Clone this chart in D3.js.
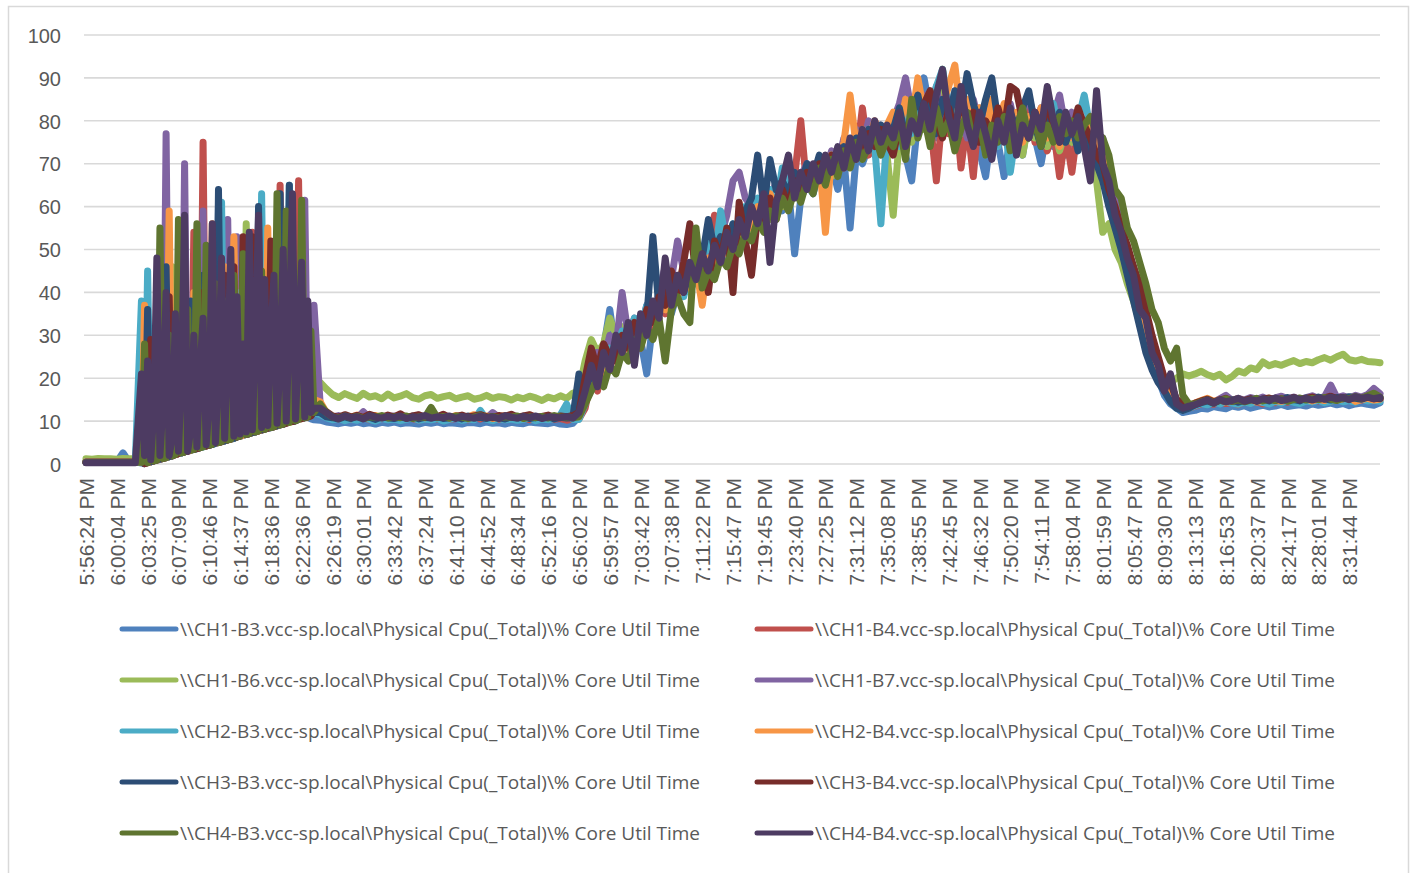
<!DOCTYPE html>
<html>
<head>
<meta charset="utf-8">
<script src="https://cdn.jsdelivr.net/npm/d3@7"></script>
<style>
  body { margin: 0; background: #ffffff; }
  svg { display: block; }
</style>
</head>
<body>
<svg id="chart" width="1416" height="873"></svg>
<script>
// Category labels along the time axis
const timeLabels = ["5:56:24 PM","6:00:04 PM","6:03:25 PM","6:07:09 PM","6:10:46 PM","6:14:37 PM","6:18:36 PM","6:22:36 PM","6:26:19 PM","6:30:01 PM","6:33:42 PM","6:37:24 PM","6:41:10 PM","6:44:52 PM","6:48:34 PM","6:52:16 PM","6:56:02 PM","6:59:57 PM","7:03:42 PM","7:07:38 PM","7:11:22 PM","7:15:47 PM","7:19:45 PM","7:23:40 PM","7:27:25 PM","7:31:12 PM","7:35:08 PM","7:38:55 PM","7:42:45 PM","7:46:32 PM","7:50:20 PM","7:54:11 PM","7:58:04 PM","8:01:59 PM","8:05:47 PM","8:09:30 PM","8:13:13 PM","8:16:53 PM","8:20:37 PM","8:24:17 PM","8:28:01 PM","8:31:44 PM"];

// Sample times in label units: 5 samples per label interval,
// 10 per interval during the 6:03-6:22 load burst.
const sampleTimes = [
  ...d3.range(0, 9).map(i => i / 5),
  ...d3.range(0, 57).map(h => (9 + h / 2) / 5),
  ...d3.range(38, 211).map(i => i / 5)
];

const yTicks = [0, 10, 20, 30, 40, 50, 60, 70, 80, 90, 100];

const seriesNames = [
  "\\\\CH1-B3.vcc-sp.local\\Physical Cpu(_Total)\\% Core Util Time",
  "\\\\CH1-B4.vcc-sp.local\\Physical Cpu(_Total)\\% Core Util Time",
  "\\\\CH1-B6.vcc-sp.local\\Physical Cpu(_Total)\\% Core Util Time",
  "\\\\CH1-B7.vcc-sp.local\\Physical Cpu(_Total)\\% Core Util Time",
  "\\\\CH2-B3.vcc-sp.local\\Physical Cpu(_Total)\\% Core Util Time",
  "\\\\CH2-B4.vcc-sp.local\\Physical Cpu(_Total)\\% Core Util Time",
  "\\\\CH3-B3.vcc-sp.local\\Physical Cpu(_Total)\\% Core Util Time",
  "\\\\CH3-B4.vcc-sp.local\\Physical Cpu(_Total)\\% Core Util Time",
  "\\\\CH4-B3.vcc-sp.local\\Physical Cpu(_Total)\\% Core Util Time",
  "\\\\CH4-B4.vcc-sp.local\\Physical Cpu(_Total)\\% Core Util Time"
];
const seriesColors = ["#4F81BD","#C0504D","#9BBB59","#8064A2","#4BACC6","#F79646","#2C4D75","#772C2A","#5F7530","#4D3B62"];

// % Core Util Time samples per host
const cpuCH1B3 = [0.5,0.5,0.5,0.5,0.5,0.5,2.6,0.5,0.5,
0.2,0.1,18,0.5,0.7,0.9,26,1.3,1.5,1.7,30,2.2,2.4,2.6,22,3,3.2,3.4,35,3.8,4,4.2,28,4.6,4.8,60,5.2,5.4,5.6,32,6,6.3,6.5,40,6.9,7.1,7.3,25,7.7,7.9,8.1,38,8.5,8.7,8.9,30,9.3,9.5,9.7,42,10.1,10.4,10.6,20,11,10.5,10.3,
10.2,9.8,9.6,9.4,9.7,9.5,9.8,9.4,9.6,9.3,9.7,9.5,9.8,9.4,9.6,9.5,9.3,9.7,9.5,9.8,9.4,9.6,9.5,9.3,9.7,9.6,9.4,9.8,9.5,9.6,9.3,9.7,9.5,9.4,9.8,9.6,9.5,9.4,9.7,9.3,9.2,9.5,
11,15,18,24,27,36,26,30,27,31,29,21,33,36,38,35,40,43,41,44,43,47,46,50,48,54,51,57,55,58,60,57,62,59,64,49,62,65,63,68,66,70,64,71,55,72,70,74,72,76,73,
75,78,72,66,80,90,82,76,84,79,86,74,80,77,73,67,78,75,67,76,79,72,81,76,70,78,74,80,72,77,82,75,79,74,
72,63,57,52,46,40,36,29,24,20,16,14,13,12,12.3,
12.5,13,12.8,13.4,13.1,12.9,13.5,13.2,13.6,13,13.4,13.7,13.3,13.5,13.9,13.4,13.6,13.8,13.5,14,13.7,13.9,14.2,13.8,14.1,13.6,14,14.2,13.9,13.7,14.3];

const cpuCH1B4 = [0.5,0.5,0.5,0.5,0.5,0.5,0.5,0.5,0.5,
8,0.1,0.3,0.5,0.7,0.9,1.1,22,1.5,1.7,1.9,30,2.4,2.6,42,3,3.2,54,3.6,3.8,75,4.2,4.4,4.6,38,5,5.2,5.4,45,5.8,6,6.3,36,6.7,6.9,7.1,54,7.5,7.7,7.9,40,8.3,8.5,8.7,8.9,65,9.3,9.5,48,9.9,10.1,66,10.6,10.8,11,11.2,14,
13,11.5,10.8,10.5,11,10.4,10.7,10.9,10.3,10.6,11.1,10.5,10.7,10.4,10.9,10.6,10.2,10.8,11,10.5,10.7,10.4,10.6,10.9,10.3,10.8,10.5,11,10.6,10.4,10.7,10.9,10.5,10.8,10.3,10.6,11,10.7,10.4,10.6,10.2,10.5,
10.5,13,20,17,25,22,28,25,31,29,27,34,32,38,35,40,38,44,41,46,43,51,58,49,54,51,56,53,60,55,61,58,64,60,63,67,80,64,68,66,70,67,73,69,75,71,83,72,77,74,78,
79,74,82,76,84,78,80,66,82,77,85,69,80,67,83,76,81,74,79,72,80,76,83,75,79,73,78,67,77,68,79,75,80,76,
74,66,59,55,49,44,38,32,27,22,18,16,14,13,13,
13.5,14,14.3,13.9,14.5,14.1,14.4,13.8,14.6,14.2,14.5,14,14.7,14.3,14.6,14.4,14.9,14.5,14.8,15.2,14.7,15,14.6,15.1,14.8,15.3,15,14.9,15.4,15.1,14.9];

const cpuCH1B6 = [1.2,1.1,1.3,1.2,1.2,1.1,1.3,1.2,1.2,
1.2,0.1,0.3,0.5,12,0.9,1.1,1.3,1.5,1.7,46,2.2,2.4,2.6,2.8,3,25,3.4,3.6,3.8,4,4.2,33,4.6,4.8,5,5.2,5.4,40,5.8,6,6.3,6.5,6.7,56,7.1,7.3,7.5,7.7,7.9,36,8.3,8.5,8.7,8.9,9.1,44,9.5,9.7,9.9,35,10.4,10.6,10.8,30,14,18,
19,17.5,16.2,15.5,16.4,15.8,15.3,16.5,15.6,15.9,15.2,16.3,15.4,15.8,16.4,15.5,15.1,15.9,16.2,15.3,15.7,16,15.2,15.6,15.9,15.1,15.4,16,15.3,15.7,15.5,14.9,15.6,15.2,15.8,15.4,14.8,15.6,15.2,15.9,15.3,16.5,
17,24,29,26,28,34,30,32,29,33,31,36,33,38,36,41,39,44,40,45,47,44,50,47,53,50,55,52,58,56,60,57,63,60,65,62,67,64,69,66,71,67,73,70,74,71,76,73,77,74,72,
58,76,81,75,83,78,86,80,92,79,84,77,82,75,80,73,79,76,82,74,78,72,80,76,81,74,79,73,78,75,80,74,71,66,
54,56,50,47,42,38,33,29,25,22,20,19,20,21,20.5,
21,21.6,20.8,20.3,20.9,19.6,20.4,21.7,21.2,22.4,22,23.8,22.9,23.4,23,23.6,24.1,23.4,23.9,23.6,24.3,24.8,24.2,25,25.6,24.3,24,24.4,23.9,23.8,23.6];

const cpuCH1B7 = [0.5,0.5,0.5,0.5,0.5,0.5,0.5,0.5,0.5,
5,0.1,0.3,0.5,28,0.9,1.1,1.3,77,1.7,1.9,2.2,2.4,2.6,70,3,3.2,34,3.6,3.8,59,4.2,4.4,4.6,32,5,5.2,5.4,57,5.8,6,53,6.5,6.7,6.9,7.1,45,7.5,7.7,7.9,38,8.3,8.5,8.7,42,9.1,9.3,9.5,30,9.9,10.1,10.4,10.6,61.5,11,11.2,37,
14,11,10.9,11.3,10.6,11,10.8,12.2,10.7,11.1,10.5,10.9,11.2,10.6,11,10.8,11.4,10.5,10.9,11.1,10.7,11,10.6,11.2,10.8,10.5,11,10.7,12,10.9,10.6,11.1,10.8,10.5,11,10.7,10.9,11.2,10.6,11,13,10.8,
11,18,22,26,24,30,27,40,30,34,31,37,34,40,46,43,52,45,44,48,46,50,47,53,58,66,68,62,60,58,63,61,66,64,68,65,67,70,66,71,68,73,70,76,72,78,74,80,76,79,77,
80,84,90,82,78,86,80,88,79,84,77,82,76,85,79,83,76,81,78,84,77,82,86,79,83,77,81,86,78,82,76,80,78,73,
76,68,62,56,50,46,40,35,29,24,20,17,15,14,13.5,
14,14.6,15,14.4,15.2,16,14.8,15.3,14.9,15.5,15.1,15.6,14.9,15.4,15.8,15.2,15.6,15,15.5,15.9,15.3,15.7,18.4,15.5,15.9,15.4,16,15.6,16.2,17.6,16.4];

const cpuCH2B3 = [0.5,0.5,0.5,0.5,0.5,0.5,0.5,0.5,0.5,
38,3,45,0.5,0.7,0.9,22,1.3,1.5,1.7,1.9,30,2.4,2.6,2.8,3,26,3.4,3.6,3.8,4,35,4.4,4.6,4.8,5,61,5.4,5.6,5.8,6,40,6.5,6.7,6.9,33,7.3,7.5,7.7,63,8.1,8.3,8.5,36,8.9,9.1,9.3,9.5,65,9.9,10.1,10.4,28,10.8,11,11.2,12,
11.5,10.8,10.3,10.6,10.1,10.5,10.2,10.7,10.4,10,10.6,10.3,10.5,10.1,10.4,10.8,10.2,10.5,10.3,10.6,10,10.4,10.7,10.2,10.5,10.3,12.5,10.4,10.1,10.6,10.3,10.5,10.2,10.4,10.7,10.1,10.5,10.3,10.6,11.5,14,10.4,
10.4,14,20,23,21,27,25,31,28,34,31,37,33,36,40,38,42,39,45,42,47,52,48,59,51,56,53,60,57,62,58,64,60,69,63,66,62,68,64,70,66,72,68,74,70,76,71,78,74,56,77,
80,74,83,77,85,79,83,88,92,84,78,86,80,75,82,72,79,74,81,68,78,82,76,80,74,79,84,77,81,76,80,86,78,72,
70,62,56,50,45,40,34,30,25,21,17,14.5,13,12.5,13,
13.6,14.1,13.8,14.4,14,14.6,14.2,13.9,14.5,14.1,14.7,14.3,14,14.6,14.2,14.8,14.4,14.1,14.7,14.5,14.9,14.3,14.6,15,14.5,14.8,14.4,15.1,14.7,14.9,14.6];

const cpuCH2B4 = [0.5,0.5,0.5,0.5,0.5,0.5,0.5,0.5,0.5,
0.5,37,0.3,0.5,0.7,25,1.1,1.3,1.5,59,1.9,2.2,2.4,34,2.8,3,3.2,40,3.6,3.8,28,4.2,4.4,56,4.8,5,5.2,46,5.6,5.8,53,6.3,6.5,6.7,38,7.1,7.3,44,7.7,7.9,8.1,55,8.5,8.7,8.9,36,9.3,9.5,9.7,46,10.1,10.4,10.6,25,11,11.2,15,
14.5,12,11,10.7,11.2,10.9,11.4,10.6,11,11.3,10.8,11.1,10.9,11.5,10.7,11,11.2,10.8,11.4,10.9,11.1,10.7,11.3,10.9,11,11.5,10.8,11.2,10.6,11,11.3,10.9,11.1,10.7,11.4,10.9,11,11.2,10.8,11.1,10.9,11.2,
11,16,19,23,21,26,24,29,27,32,30,35,33,38,36,41,39,43,41,46,37,48,45,51,49,54,52,58,55,60,57,63,60,65,62,67,64,69,66,71,54,72,69,75,86,74,78,75,80,77,79,
82,78,85,80,90,82,86,79,84,88,93,81,85,78,83,76,85,79,84,77,82,75,81,78,83,76,80,74,79,76,81,77,79,74,
72,64,58,53,47,42,37,31,26,21,18,15.5,14,13.5,13.5,
14.2,14.8,15.3,14.6,15,14.4,14.9,15.2,14.7,15.1,14.5,14.9,15.3,14.8,14.6,15,15.4,14.9,15.2,14.7,15.1,14.8,15.3,14.9,15.2,15.5,14.6,15,15.3,14.9,15.1];

const cpuCH3B3 = [0.4,0.4,0.4,0.4,0.4,0.4,0.4,0.4,0.4,
3,0.1,36,0.5,0.7,20,1.1,1.3,46,1.7,1.9,2.2,30,2.6,2.8,3,38,3.4,3.6,3.8,44,4.2,4.4,4.6,4.8,64,5.2,5.4,5.6,35,6,6.3,6.5,42,6.9,7.1,7.3,7.5,60,7.9,8.1,40,8.5,8.7,8.9,63,9.3,9.5,65,9.9,10.1,10.4,38,10.8,11,11.2,12,
12,11,10.8,10.5,11,10.6,11.3,10.7,10.9,10.4,11.1,10.8,10.6,11,10.7,11.2,10.5,10.9,10.7,11.1,10.6,10.8,11,10.5,11.2,10.7,10.9,10.6,11.1,10.8,10.5,11,10.7,11.2,10.6,10.9,10.8,11,10.5,10.9,10.7,10.8,
21,16,22,19,25,23,29,26,31,28,30,34,53,36,40,38,43,40,45,43,48,57,50,53,51,56,54,59,62,72,60,71,64,66,63,68,65,70,67,72,69,71,68,74,71,76,73,78,75,79,76,
78,83,76,81,86,79,84,77,85,80,87,82,91,84,79,85,90,80,77,82,78,83,87,79,74,80,77,82,75,79,73,78,72,70,
66,60,55,50,44,38,32,26,22,19,17,14.5,13,12.5,13,
13.8,14.3,14.7,14.2,14.9,14.5,15,14.4,14.8,15.2,14.6,15.1,14.7,15.3,14.9,15.5,15,14.7,15.4,15.1,15.6,15.2,14.9,15.5,15.2,15.7,15.3,15.1,15.6,15.4,15.2];

const cpuCH3B4 = [0.4,0.4,0.4,0.4,0.4,0.4,0.4,0.4,0.4,
2,0.1,0.3,29,0.7,0.9,24,1.3,1.5,39,1.9,2.2,2.4,33,2.8,3,26,3.4,3.6,3.8,40,4.2,4.4,4.6,36,5,5.2,44,5.6,5.8,46,6.3,6.5,53,6.9,7.1,53,7.5,7.7,41,8.1,8.3,52,8.7,53,9.1,9.3,9.5,35,9.9,10.1,30,10.6,10.8,11,11.2,13,
13,12.2,11.2,10.9,11.5,11,11.3,10.8,11.6,11.1,10.9,11.4,11,11.7,10.8,11.2,11.5,10.9,11.3,11,11.6,10.8,11.1,11.4,10.9,11.2,11.5,11,10.8,11.3,11.1,11.6,10.9,11.2,11.5,10.8,11.1,11.4,10.9,11.2,11,11.3,
12,20,27,22,28,25,24,30,27,33,29,36,33,39,37,45,40,47,56,44,49,40,52,48,55,40,61,52,44,58,55,62,57,64,60,66,62,68,64,70,66,72,68,73,70,75,72,77,74,78,75,
72,79,75,82,77,84,87,80,76,83,78,85,79,82,75,80,77,83,78,88,87,80,76,82,78,84,79,75,81,77,83,79,76,72,
70,64,60,55,51,46,42,36,30,25,20,19,15,14,13.5,
14.2,14.7,15.1,14.5,14.9,15.3,14.6,15,14.8,15.2,14.7,15.1,15.4,14.9,15.2,14.8,15.5,15,15.3,15.6,15.1,15.4,15.8,15.2,15.5,15.1,15.6,15.3,15.7,15.2,15.4];

const cpuCH4B3 = [0.4,0.4,0.4,0.4,0.4,0.4,0.4,0.4,0.4,
0.4,28,0.3,22,0.7,0.9,55,1.3,1.5,30,1.9,2.2,57,2.6,2.8,36,3.2,3.4,56,3.8,4,51,4.4,4.6,42,5,5.2,38,5.6,5.8,44,6.3,6.5,49,6.9,7.1,40,7.5,7.7,45,8.1,28,8.5,8.7,63,9.1,9.3,59,9.7,25,10.1,10.4,61.5,10.8,11,31,12,
14,12,11,10.7,11.2,10.8,11.1,10.6,11,10.9,11.3,10.7,11,10.8,11.2,10.6,11,10.9,13.2,10.8,11.1,10.7,11.2,10.9,10.6,11,11.3,10.8,11.1,10.7,11,10.9,11.2,10.6,11,10.8,11.1,10.7,11.3,10.9,11,10.8,
11,14,17,20,18,23,21,26,24,29,27,32,29,34,24,36,39,35,33,55,41,45,43,48,46,51,49,54,52,57,54,59,57,62,59,64,61,66,63,69,65,71,67,73,69,75,71,74,77,72,76,
74,79,71,85,76,81,74,83,77,80,73,78,82,75,80,72,79,75,81,73,78,83,76,80,74,79,75,81,77,80,76,79,81,77,
76,72,64,62,55,52,47,42,36,33,27,24,27,16,14,
14,14.5,14.9,14.3,14.8,15.2,14.6,15,14.5,14.9,15.3,14.7,15.1,14.8,15.2,14.6,15,15.4,14.9,15.3,15,15.5,15.1,14.8,15.4,15.2,15.7,15.3,15.9,16.5,15.6];

const cpuCH4B4 = [0.3,0.3,0.3,0.3,0.3,0.3,0.3,0.3,0.3,
21,2,24,1,12,48,2,14,40,2,6,35,3,20,58,3,8,30,4,22,34,4.5,14,56,5,20,48,6,25,50,6.5,39,7,28,7.5,54,8,30,58,8.5,43,9,30,44,9.5,24,50,10,32,63,10.5,28,47,11,38,12,13,
13,12,11,10.6,11.2,10.8,11,10.5,11.3,10.9,10.7,11.1,10.8,11.2,10.6,11,10.9,11.3,10.7,11,10.8,11.2,10.6,11.1,10.9,10.7,11.2,10.8,11,10.6,11.3,10.9,10.7,11.1,10.8,11.2,10.6,11,10.9,10.8,11.1,10.7,
12,17,23,18,26,22,30,26,33,23,35,30,38,34,48,37,44,40,47,43,49,45,51,47,54,50,57,53,60,56,63,47,61,66,72,62,68,64,70,66,72,68,74,69,76,71,78,73,80,75,79,
76,82,74,80,77,84,78,86,92,81,76,88,79,74,82,77,71,80,75,83,72,79,76,82,78,88,80,75,82,77,81,74,66,87,
70,66,58,54,48,44,36,34,26,23,17,21,14,13,13.5,
13.8,14.4,14.9,14.2,15,14.5,14.8,15.3,14.6,15,14.7,15.2,14.9,15.4,14.8,15.1,15.5,15,15.3,14.9,15.4,15.1,15.6,15.2,15.5,15,15.7,15.3,15.6,15.2,15.5];

const seriesValues = [cpuCH1B3, cpuCH1B4, cpuCH1B6, cpuCH1B7, cpuCH2B3, cpuCH2B4, cpuCH3B3, cpuCH3B4, cpuCH4B3, cpuCH4B4];

seriesValues.forEach((s, i) => {
  if (s.length !== sampleTimes.length) throw new Error("series " + i + " has " + s.length + " samples, expected " + sampleTimes.length);
});

// ---------- drawing ----------
const svg = d3.select("#chart");
const textColor = "#595959";
const gridColor = "#d9d9d9";
const font = "'Liberation Sans', Arial, sans-serif";

// chart frame
svg.append("rect")
  .attr("x", 8.5).attr("y", 6.5)
  .attr("width", 1400).attr("height", 900)
  .attr("fill", "#ffffff")
  .attr("stroke", gridColor).attr("stroke-width", 1.5);

const x = d3.scaleLinear().domain([0, timeLabels.length]).range([86, 1380]);
const y = d3.scaleLinear().domain([0, 100]).range([464, 35]);

// horizontal gridlines
svg.append("g")
  .selectAll("line")
  .data(yTicks)
  .join("line")
  .attr("x1", 84).attr("x2", 1380)
  .attr("y1", d => y(d)).attr("y2", d => y(d))
  .attr("stroke", gridColor).attr("stroke-width", 1.6);

// y axis labels
const yAxisG = svg.append("g")
  .attr("transform", "translate(61,0)")
  .call(d3.axisLeft(y).tickValues(yTicks).tickSize(0).tickPadding(0));
yAxisG.select(".domain").remove();
yAxisG.attr("font-family", font).attr("font-size", 20);
yAxisG.selectAll("text").attr("fill", textColor).attr("dy", "0.36em");

// x axis labels (rotated)
const xAxisG = svg.append("g")
  .attr("transform", "translate(0,478)")
  .call(d3.axisBottom(x).tickValues(d3.range(timeLabels.length)).tickFormat(d => timeLabels[d]).tickSize(0).tickPadding(0));
xAxisG.select(".domain").remove();
xAxisG.attr("font-family", font).attr("font-size", 21);
xAxisG.selectAll("text")
  .attr("fill", textColor)
  .attr("transform", "rotate(-90)")
  .attr("text-anchor", "end")
  .attr("x", 0).attr("y", 0)
  .attr("dy", "0.36em");

// series lines, first series drawn first so the last one is on top
const line = d3.line()
  .x((d, i) => x(sampleTimes[i]))
  .y(d => y(d));

svg.append("g")
  .selectAll("path")
  .data(seriesValues)
  .join("path")
  .attr("d", line)
  .attr("fill", "none")
  .attr("stroke", (d, i) => seriesColors[i])
  .attr("stroke-width", 7)
  .attr("stroke-linejoin", "round")
  .attr("stroke-linecap", "round");

// legend: two columns, five rows
const legend = svg.append("g").attr("font-family", "'Open Sans', 'Noto Sans', sans-serif").attr("font-size", 19);
const legendItems = legend.selectAll("g")
  .data(seriesNames)
  .join("g")
  .attr("transform", (d, i) => `translate(${i % 2 === 0 ? 122 : 757},${629 + Math.floor(i / 2) * 51})`);

legendItems.append("line")
  .attr("x1", 0).attr("x2", 54)
  .attr("y1", 0).attr("y2", 0)
  .attr("stroke", (d, i) => seriesColors[i])
  .attr("stroke-width", 5)
  .attr("stroke-linecap", "round");

legendItems.append("text")
  .attr("x", 58).attr("y", 0)
  .attr("dy", "0.35em")
  .attr("fill", textColor)
  .attr("textLength", 520)
  .attr("lengthAdjust", "spacingAndGlyphs")
  .text(d => d);
</script>
</body>
</html>
